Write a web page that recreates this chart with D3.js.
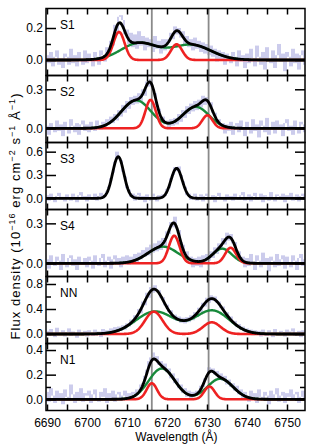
<!DOCTYPE html>
<html>
<head>
<meta charset="utf-8">
<script src="https://cdn.jsdelivr.net/npm/d3@7"></script>
<style>
body { margin: 0; background: #fff; }
svg { display: block; font-family: "Liberation Sans", Arial, sans-serif; }
</style>
</head>
<body>
<div class="chart"></div>
<script>
// panels, top to bottom
const panelNames = ['S1', 'S2', 'S3', 'S4', 'NN', 'N1'];
const yMin = [-0.097, -0.109, -0.144, -0.099, -0.152, -0.091];
const yMax = [0.322, 0.406, 0.718, 0.404, 0.92, 0.453];
const yMajor = [[0, 0.2], [0, 0.3], [0, 0.3, 0.6], [0, 0.3], [0, 0.4, 0.8], [0, 0.2, 0.4]];
const yMinor = [[0.1], [0.15], [0.15, 0.45], [0.15], [0.2, 0.6], [0.1, 0.3]];

// fitted gaussian components: [centre (A), sigma (A), peak flux]
const narrowLines = [
  [[6708.0, 1.4, 0.175], [6722.4, 1.4, 0.098]],
  [[6715.9, 1.3, 0.218], [6730.1, 1.3, 0.100]],
  [[6707.8, 1.4, 0.535], [6722.4, 1.4, 0.386]],
  [[6721.8, 1.35, 0.207], [6735.9, 1.35, 0.117]],
  [[6716.7, 2.2, 0.357], [6731.2, 2.2, 0.187]],
  [[6716.2, 1.3, 0.130], [6730.6, 1.3, 0.104]]
];
const broadLines = [
  [[6713.0, 4.5, 0.105], [6726.0, 5.0, 0.095]],
  [[6712.3, 3.7, 0.215], [6727.2, 3.3, 0.165]],
  [],
  [[6719.0, 3.8, 0.125], [6733.8, 2.4, 0.110]],
  [[6717.0, 4.8, 0.360], [6731.3, 4.3, 0.375]],
  [[6718.7, 3.25, 0.250], [6733.3, 3.2, 0.167]]
];
const showComponents = [true, true, false, true, true, true];

const refLines = [6716.2, 6730.4];
const xLabelTicks = [6690, 6700, 6710, 6720, 6730, 6740, 6750];
const xAllTicks = [6690, 6695, 6700, 6705, 6710, 6715, 6720, 6725, 6730, 6735, 6740, 6745, 6750];

// observed spectra, 0.5 A bins starting at 6690 A
const specStart = 6690;
const specStep = 0.5;
const fluxS1 = [0.03, -0.02, 0.05, -0.04, 0.02, 0.06, -0.03, 0.01, -0.05, 0.04, 0.02, -0.03, 0.07, -0.02, 0.03, -0.04, 0.05, 0.00, -0.03, 0.06,
  -0.02, 0.04, 0.01, -0.04, 0.05, 0.02, -0.03, 0.06, 0.03, -0.01, 0.08, 0.03, 0.12, 0.09, 0.22, 0.18, 0.27, 0.28, 0.25, 0.16,
  0.19, 0.10, 0.17, 0.08, 0.16, 0.07, 0.18, 0.09, 0.15, 0.06, 0.14, 0.08, 0.13, 0.05, 0.15, 0.07, 0.12, 0.04, 0.13, 0.06,
  0.13, 0.11, 0.17, 0.13, 0.21, 0.16, 0.20, 0.14, 0.18, 0.10, 0.15, 0.08, 0.13, 0.06, 0.14, 0.07, 0.12, 0.05, 0.11, 0.04,
  0.10, 0.03, 0.09, 0.02, 0.07, -0.01, 0.06, 0.00, 0.05, -0.03, 0.04, 0.01, -0.02, 0.05, 0.02, -0.04, 0.06, -0.01, 0.03, -0.05,
  0.04, -0.02, 0.07, 0.01, -0.04, 0.09, 0.02, -0.03, 0.05, -0.06, 0.08, 0.00, -0.02, 0.06, -0.05, 0.03, 0.10, -0.01, 0.04, -0.07, 0.05, 0.02, -0.04, 0.07, -0.02, 0.04, -0.06, 0.03, 0.06, -0.03, 0.05];
const fluxS2 = [0.02, -0.05, 0.04, 0.01, -0.03, 0.06, -0.02, 0.03, -0.06, 0.05, 0.00, -0.04, 0.07, 0.02, -0.03, 0.04, -0.05, 0.03, 0.06, -0.02,
  0.03, -0.03, 0.05, 0.00, -0.02, 0.06, 0.02, -0.01, 0.05, 0.01, 0.07, 0.03, 0.09, 0.04, 0.11, 0.06, 0.14, 0.09, 0.18, 0.12,
  0.21, 0.15, 0.24, 0.18, 0.25, 0.19, 0.27, 0.21, 0.30, 0.25, 0.36, 0.32, 0.38, 0.30, 0.27, 0.18, 0.15, 0.08, 0.09, 0.03,
  0.06, 0.01, 0.07, 0.02, 0.08, 0.03, 0.11, 0.05, 0.14, 0.08, 0.17, 0.11, 0.19, 0.13, 0.21, 0.14, 0.22, 0.16, 0.25, 0.18,
  0.24, 0.19, 0.20, 0.12, 0.12, 0.05, 0.07, 0.00, 0.04, -0.04, 0.03, -0.02, 0.05, -0.05, 0.02, 0.04, -0.03, 0.06, -0.01, -0.06,
  0.05, 0.01, -0.04, 0.07, -0.02, 0.03, -0.07, 0.06, 0.02, -0.03, 0.08, -0.05, 0.01, 0.05, -0.04, 0.06, -0.01, 0.03, -0.06, 0.04, 0.07, -0.02, 0.02, -0.05, 0.06, 0.00, -0.04, 0.05, 0.03, -0.03, 0.04];
const fluxS3 = [0.04, -0.03, 0.06, 0.01, -0.05, 0.03, 0.07, -0.02, 0.02, -0.04, 0.05, 0.00, -0.03, 0.06, 0.02, -0.05, 0.04, 0.08, -0.01, 0.03,
  -0.04, 0.05, 0.01, -0.02, 0.06, -0.03, 0.03, 0.07, 0.00, 0.05, 0.09, 0.15, 0.26, 0.33, 0.47, 0.60, 0.51, 0.49, 0.34, 0.28,
  0.13, 0.11, 0.02, 0.06, -0.03, 0.04, 0.07, -0.02, 0.03, -0.05, 0.05, 0.01, -0.03, 0.06, 0.02, -0.04, 0.04, 0.00, 0.05, 0.03,
  0.12, 0.13, 0.26, 0.30, 0.40, 0.35, 0.41, 0.30, 0.22, 0.15, 0.04, 0.06, -0.02, 0.03, 0.06, -0.03, 0.02, 0.05, -0.04, 0.03,
  0.06, -0.02, 0.01, 0.04, -0.05, 0.03, 0.07, -0.01, 0.02, -0.04, 0.05, 0.00, 0.03, -0.03, 0.06, 0.01, -0.02, 0.04, 0.08, -0.03,
  0.02, 0.05, -0.04, 0.03, 0.07, -0.02, 0.01, 0.06, -0.05, 0.04, 0.02, -0.03, 0.08, 0.00, -0.04, 0.05, 0.03, -0.02, 0.06, -0.05, 0.04, 0.01, 0.07, -0.03, 0.02, 0.05, -0.04, 0.03, 0.06, -0.02, 0.04];
const fluxS4 = [0.03, -0.04, 0.06, 0.00, -0.02, 0.05, 0.02, -0.05, 0.07, 0.01, -0.03, 0.04, 0.06, -0.02, 0.03, -0.05, 0.05, 0.01, -0.01, 0.04,
  -0.03, 0.05, 0.02, -0.04, 0.06, 0.00, -0.02, 0.04, 0.07, -0.03, 0.02, 0.05, -0.04, 0.03, 0.06, -0.01, 0.04, -0.03, 0.05, 0.01,
  0.06, -0.01, 0.05, 0.02, 0.07, 0.00, 0.08, 0.03, 0.10, 0.05, 0.12, 0.06, 0.14, 0.08, 0.15, 0.09, 0.17, 0.10, 0.19, 0.13,
  0.24, 0.22, 0.31, 0.27, 0.35, 0.26, 0.25, 0.16, 0.14, 0.06, 0.09, 0.01, 0.05, -0.03, 0.04, -0.02, 0.05, -0.03, 0.06, 0.00,
  0.07, 0.02, 0.09, 0.04, 0.12, 0.07, 0.15, 0.10, 0.19, 0.14, 0.23, 0.17, 0.22, 0.15, 0.16, 0.09, 0.09, 0.02, 0.05, -0.03,
  0.04, -0.02, 0.07, 0.01, -0.05, 0.06, 0.02, -0.03, 0.08, -0.01, 0.04, -0.06, 0.05, 0.02, -0.03, 0.07, -0.02, 0.03, 0.06, -0.04, 0.05, 0.00, -0.03, 0.06, 0.02, -0.05, 0.04, 0.07, -0.02, 0.03, 0.05];
const fluxNN = [0.05, -0.03, 0.08, 0.01, -0.05, 0.10, 0.02, -0.02, 0.06, -0.04, 0.03, 0.09, -0.03, 0.04, 0.00, -0.06, 0.07, 0.02, -0.02, 0.05,
  -0.04, 0.06, 0.02, -0.03, 0.07, 0.00, 0.04, -0.05, 0.08, 0.02, 0.06, -0.02, 0.09, 0.03, 0.11, 0.04, 0.12, 0.05, 0.14, 0.07,
  0.17, 0.12, 0.23, 0.17, 0.30, 0.24, 0.40, 0.33, 0.52, 0.46, 0.66, 0.58, 0.75, 0.66, 0.78, 0.68, 0.70, 0.58, 0.59, 0.46,
  0.47, 0.35, 0.38, 0.26, 0.31, 0.21, 0.28, 0.18, 0.26, 0.17, 0.27, 0.19, 0.30, 0.22, 0.35, 0.27, 0.42, 0.35, 0.50, 0.44,
  0.58, 0.50, 0.62, 0.53, 0.60, 0.50, 0.52, 0.42, 0.44, 0.33, 0.35, 0.25, 0.28, 0.17, 0.21, 0.11, 0.16, 0.07, 0.12, 0.03,
  0.09, 0.01, 0.07, -0.02, 0.06, 0.00, 0.05, -0.04, 0.07, 0.01, -0.03, 0.06, 0.02, -0.05, 0.08, 0.00, -0.02, 0.05, 0.03, -0.04, 0.07, -0.01, 0.04, 0.09, -0.03, 0.02, 0.05, -0.05, 0.06, 0.01, 0.03];
const fluxN1 = [0.06, -0.02, 0.09, 0.03, -0.03, 0.07, 0.01, 0.05, -0.04, 0.08, 0.02, -0.01, 0.12, 0.04, -0.03, 0.06, 0.00, 0.09, -0.02, 0.05,
  0.03, 0.07, -0.03, 0.04, 0.08, 0.00, -0.02, 0.06, 0.02, 0.09, -0.03, 0.05, 0.01, 0.07, -0.02, 0.04, 0.06, -0.01, 0.03, 0.07,
  0.00, 0.05, 0.02, 0.06, 0.04, 0.08, 0.07, 0.12, 0.13, 0.19, 0.24, 0.31, 0.34, 0.38, 0.33, 0.35, 0.28, 0.31, 0.24, 0.29,
  0.22, 0.25, 0.17, 0.21, 0.13, 0.17, 0.09, 0.12, 0.05, 0.09, 0.02, 0.07, 0.01, 0.06, 0.03, 0.07, 0.05, 0.11, 0.10, 0.17,
  0.18, 0.26, 0.23, 0.25, 0.20, 0.23, 0.17, 0.21, 0.15, 0.19, 0.12, 0.16, 0.10, 0.13, 0.07, 0.11, 0.04, 0.08, 0.01, 0.06,
  0.03, -0.02, 0.07, 0.01, 0.05, -0.03, 0.08, 0.02, -0.01, 0.06, 0.03, -0.04, 0.07, 0.00, 0.04, 0.09, -0.02, 0.03, 0.06, -0.03, 0.05, 0.02, 0.08, -0.01, 0.04, 0.06, -0.03, 0.02, 0.07, 0.01, 0.04];
const fluxes = [fluxS1, fluxS2, fluxS3, fluxS4, fluxNN, fluxN1];

const draw = function() {
  const width = 311;
  const height = 445;
  const left = 46;
  const right = 305;
  const top = 8.5;
  const panelH = 67;

  let svg = d3.select('.chart')
    .append('svg')
    .attr('width', width)
    .attr('height', height);

  let x = d3.scaleLinear()
    .domain([6689.75, 6754.5])
    .range([left, right]);

  const grid = d3.range(6689.5, 6755.05, 0.1);
  const gauss = function(lam, lines) {
    return d3.sum(lines, function(l) {
      return l[2] * Math.exp(-0.5 * Math.pow((lam - l[0]) / l[1], 2));
    });
  };

  panelNames.forEach(function(name, i) {
    const y0 = top + i * panelH;
    const y1 = y0 + panelH;
    let y = d3.scaleLinear().domain([yMin[i], yMax[i]]).range([y1, y0]);

    let g = svg.append('g');

    g.append('clipPath')
      .attr('id', 'clip' + i)
      .append('rect')
      .attr('x', left).attr('y', y0)
      .attr('width', right - left).attr('height', panelH);

    let plot = g.append('g').attr('clip-path', 'url(#clip' + i + ')');

    // observed spectrum: vertical jumps between neighbouring bins
    let flux = fluxes[i];
    plot.selectAll('.spec')
      .data(d3.range(1, flux.length))
      .enter()
      .append('line')
      .attr('class', 'spec')
      .attr('x1', function(j) { return x(specStart + (j - 0.5) * specStep); })
      .attr('x2', function(j) { return x(specStart + (j - 0.5) * specStep); })
      .attr('y1', function(j) { return y(flux[j - 1]); })
      .attr('y2', function(j) { return y(flux[j]); })
      .attr('stroke', '#8080d0')
      .attr('stroke-opacity', 0.8)
      .attr('stroke-width', 1);

    // reference wavelengths
    plot.selectAll('.ref')
      .data(refLines)
      .enter()
      .append('line')
      .attr('x1', function(d) { return x(d); })
      .attr('x2', function(d) { return x(d); })
      .attr('y1', y0).attr('y2', y1)
      .attr('stroke', '#8a8a8a')
      .attr('stroke-width', 1.8);

    let curve = function(lines) {
      return d3.line()
        .x(function(d) { return x(d); })
        .y(function(d) { return y(gauss(d, lines)); })(grid);
    };

    if (showComponents[i]) {
      plot.append('path')
        .attr('d', curve(broadLines[i]))
        .attr('fill', 'none')
        .attr('stroke', '#17893a')
        .attr('stroke-width', 2.4);
      plot.append('path')
        .attr('d', curve(narrowLines[i]))
        .attr('fill', 'none')
        .attr('stroke', '#ee2222')
        .attr('stroke-width', 2.6);
    }
    plot.append('path')
      .attr('d', curve(narrowLines[i].concat(broadLines[i])))
      .attr('fill', 'none')
      .attr('stroke', '#000')
      .attr('stroke-width', 2.8);

    // frame
    g.append('rect')
      .attr('x', left).attr('y', y0)
      .attr('width', right - left).attr('height', panelH)
      .attr('fill', 'none')
      .attr('stroke', '#000')
      .attr('stroke-width', 1.5);

    // y ticks
    let fmt = d3.format('.1f');
    let addAxis = function(axis, tx, ty) {
      let a = g.append('g')
        .attr('transform', 'translate(' + tx + ',' + ty + ')')
        .call(axis);
      a.select('.domain').remove();
      a.selectAll('line').attr('stroke-width', 1.5);
      a.selectAll('text')
        .attr('font-size', 12)
        .attr('font-family', '"Liberation Sans", Arial, sans-serif')
        .attr('fill', '#000');
      return a;
    };
    addAxis(d3.axisLeft(y).tickValues(yMajor[i]).tickSizeInner(-10).tickSizeOuter(0).tickPadding(3).tickFormat(fmt), left, 0);
    addAxis(d3.axisLeft(y).tickValues(yMinor[i]).tickSizeInner(-5).tickSizeOuter(0).tickFormat(''), left, 0);
    addAxis(d3.axisRight(y).tickValues(yMajor[i]).tickSizeInner(-10).tickSizeOuter(0).tickFormat(''), right, 0);
    addAxis(d3.axisRight(y).tickValues(yMinor[i]).tickSizeInner(-5).tickSizeOuter(0).tickFormat(''), right, 0);

    // x ticks, inward on both edges
    addAxis(d3.axisTop(x).tickValues(xAllTicks).tickSizeInner(-6).tickSizeOuter(0).tickFormat(''), 0, y0);
    let bottomAxis = d3.axisBottom(x).tickValues(xAllTicks).tickSizeInner(-6).tickSizeOuter(0).tickPadding(8)
      .tickFormat(function(d) { return (i === panelNames.length - 1 && xLabelTicks.indexOf(d) >= 0) ? d : ''; });
    addAxis(bottomAxis, 0, y1);

    g.append('text')
      .attr('x', 60)
      .attr('y', y0 + 20)
      .attr('font-size', 12)
      .text(name);
  });

  svg.append('text')
    .attr('x', (left + right) / 2 + 1)
    .attr('y', 441)
    .attr('text-anchor', 'middle')
    .attr('font-size', 12)
    .text('Wavelength (\u00c5)');

  let ylab = svg.append('text')
    .attr('transform', 'translate(19.5,216.5) rotate(-90)')
    .attr('text-anchor', 'middle')
    .attr('font-size', 13)
    .attr('textLength', 246)
    .attr('lengthAdjust', 'spacing');
  const parts = [['Flux density (10', 0], ['\u221216', 1], [' erg cm', 0], ['\u22122', 1], [' s', 0], ['\u22121', 1], [' \u00c5', 0], ['\u22121', 1], [')', 0]];
  let prevSup = 0;
  parts.forEach(function(p) {
    let t = ylab.append('tspan').text(p[0]);
    if (p[1] !== prevSup) t.attr('dy', p[1] ? -4.5 : 4.5);
    if (p[1]) t.attr('font-size', 9);
    prevSup = p[1];
  });
};

draw();
</script>
</body>
</html>
